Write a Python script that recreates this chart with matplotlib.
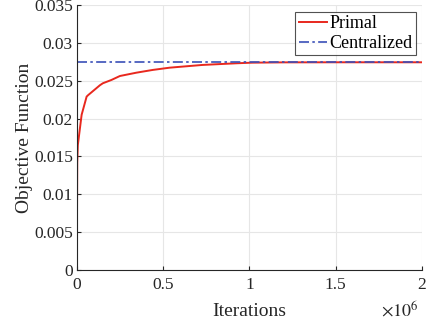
import matplotlib
matplotlib.use("Agg")
import matplotlib.pyplot as plt
import numpy as np

# values
iters = [0, 300, 1500, 5000, 27000, 56000, 65000, 133000, 150000, 200000, 249000,
         345000, 439000, 538000, 728000, 925000, 1017000, 1200000, 1500000, 2000000]
primal = [0.0, 0.0075, 0.0142, 0.0165, 0.0205, 0.0229, 0.0231, 0.0244, 0.02466,
          0.0251, 0.02562, 0.02606, 0.02642, 0.02672, 0.02708, 0.0273, 0.02738,
          0.02742, 0.02743, 0.02743]
centralized = 0.02743

plt.rcParams["font.family"] = ["Liberation Serif", "DejaVu Serif"]
plt.rcParams["mathtext.fontset"] = "stix"

fig = plt.figure(figsize=(4.30, 3.29), dpi=100)
ax = fig.add_axes([0.179, 0.179, 0.802, 0.806])

ax.plot(iters, primal, color="#e8281e", lw=1.4, label="Primal")
ax.axhline(centralized, color="#3a4fb8", lw=1.2, ls=(0, (6, 2, 1.5, 2)),
           label="Centralized")

ax.set_xlim(0, 2e6)
ax.set_ylim(0, 0.035)
ax.set_xticks([0, 0.5e6, 1e6, 1.5e6, 2e6])
ax.set_xticklabels(["0", "0.5", "1", "1.5", "2"])
ax.set_yticks(np.arange(0, 0.0351, 0.005))
ax.set_yticklabels(["0", "0.005", "0.01", "0.015", "0.02", "0.025", "0.03", "0.035"])
ax.tick_params(direction="in", length=3, labelsize=12.5, color="#262626",
               labelcolor="#262626")
ax.tick_params(axis="x", pad=5)
ax.tick_params(axis="y", pad=3)
ax.grid(True, color="#e6e6e6", lw=0.8)
ax.set_axisbelow(True)
for s in ("top", "right"):
    ax.spines[s].set_visible(False)
for s in ("left", "bottom"):
    ax.spines[s].set_color("#262626")
    ax.spines[s].set_linewidth(0.8)

ax.set_xlabel("Iterations", fontsize=14, color="#262626", labelpad=7)
ax.set_ylabel("Objective Function", fontsize=14, color="#262626", labelpad=1)
ax.text(0.991, -0.151, r"$\times10^{6}$", transform=ax.transAxes, ha="right",
        va="center", fontsize=13, color="#262626")

leg = ax.legend(loc="upper right", bbox_to_anchor=(0.983, 0.975), fontsize=13,
                frameon=True, fancybox=False, edgecolor="#262626",
                handlelength=1.6, handletextpad=0.1, borderpad=0.2,
                labelspacing=0.15, borderaxespad=0.0)
leg.get_frame().set_linewidth(0.8)

fig.savefig("out.png", dpi=100)
